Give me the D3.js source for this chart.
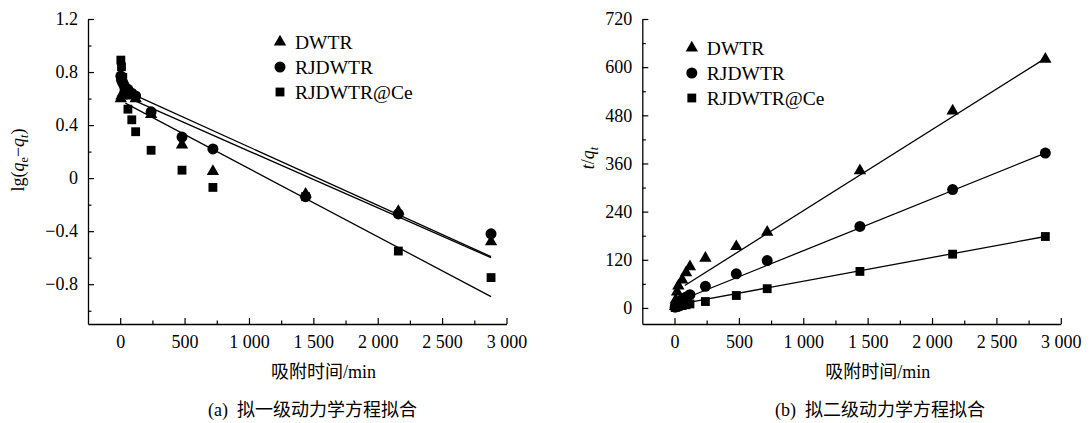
<!DOCTYPE html>
<html>
<head>
<meta charset="utf-8">
<script src="https://cdn.jsdelivr.net/npm/d3@7"></script>
<style>
  body { margin: 0; background: #fff; }
  svg text { font-family: "Liberation Serif", "Times New Roman", "Noto Sans CJK SC", serif; fill: #000; }
</style>
</head>
<body>
<svg id="chart" width="1090" height="423"></svg>
<script>
// adsorption time (min)
var times = [5, 10, 20, 30, 60, 90, 120, 240, 480, 720, 1440, 2160, 2880];
var seriesNames = ["DWTR", "RJDWTR", "RJDWTR@Ce"];

// (a) pseudo-first-order: lg(qe - qt)
var pfoDWTR = [0.60, 0.62, 0.64, 0.65, 0.63, 0.62, 0.60, 0.48, 0.25, 0.05, -0.12, -0.25, -0.48];
var pfoRJDWTR = [0.77, 0.74, 0.72, 0.70, 0.67, 0.64, 0.62, 0.50, 0.31, 0.22, -0.14, -0.27, -0.42];
var pfoCe = [0.89, 0.84, 0.76, 0.68, 0.52, 0.44, 0.35, 0.21, 0.06, -0.07, -0.14, -0.55, -0.75];
// fitted lines [tStart, vStart, tEnd, vEnd]
var pfoFitDWTR = [100, 0.631, 2880, -0.592];
var pfoFitRJDWTR = [120, 0.580, 2880, -0.600];
var pfoFitCe = [40, 0.566, 2880, -0.894];

// (b) pseudo-second-order: t/qt
var psoDWTR = [4, 20, 40, 55, 70, 88, 103, 124, 153, 189, 342, 491, 620];
var psoRJDWTR = [2, 5, 9, 13, 21, 27, 33, 54, 85, 118, 203, 295, 386];
var psoCe = [1, 2, 3, 4, 6, 8, 10, 16, 31, 48, 91, 134, 178];
var psoFitDWTR = [80, 56, 2880, 622];
var psoFitRJDWTR = [100, 26, 2880, 386];
var psoFitCe = [40, 9.6, 2880, 178];

// ticks
var xTicks = [0, 500, 1000, 1500, 2000, 2500, 3000];
var xMinor = [250, 750, 1250, 1750, 2250, 2750];
var xTickLabels = ["0", "500", "1 000", "1 500", "2 000", "2 500", "3 000"];
var yTicksA = [-0.8, -0.4, 0, 0.4, 0.8, 1.2];
var yMinorA = [-1.0, -0.6, -0.2, 0.2, 0.6, 1.0];
var yTickLabelsA = ["\u22120.8", "\u22120.4", "0", "0.4", "0.8", "1.2"];
var yTicksB = [0, 120, 240, 360, 480, 600, 720];
var yMinorB = [60, 180, 300, 420, 540, 660];
var yTickLabelsB = ["0", "120", "240", "360", "480", "600", "720"];

var svg = d3.select("#chart");

var plotW = 418.5, plotH = 305;
var symbolTypes = [d3.symbolTriangle, d3.symbolCircle, d3.symbolSquare];
var symbolSizes = [66, 95, 78];

function drawPanel(opt) {
    var g = svg.append("g").attr("transform", `translate(${opt.left},19)`);
    var x = d3.scaleLinear().domain([-250, 3000]).range([0, plotW]);
    var y = d3.scaleLinear().domain(opt.yDomain).range([plotH, 0]);

    // x axis, ticks pointing inward
    g.append("g")
        .attr("transform", `translate(0,${plotH})`)
        .call(d3.axisBottom(x).tickValues(xTicks).tickSizeInner(-6).tickSizeOuter(0).tickPadding(11)
            .tickFormat((d, i) => xTickLabels[i]));
    g.append("g")
        .attr("transform", `translate(0,${plotH})`)
        .call(d3.axisBottom(x).tickValues(xMinor).tickSizeInner(-3.5).tickSizeOuter(0).tickFormat(""))
        .select(".domain").remove();

    // y axis
    g.append("g")
        .call(d3.axisLeft(y).tickValues(opt.yTicks).tickSizeInner(-6).tickSizeOuter(0).tickPadding(10)
            .tickFormat((d, i) => opt.yLabels[i]));
    g.append("g")
        .call(d3.axisLeft(y).tickValues(opt.yMinor).tickSizeInner(-3.5).tickSizeOuter(0).tickFormat(""))
        .select(".domain").remove();

    g.selectAll(".domain").attr("stroke", "black").attr("stroke-width", 1.3);
    g.selectAll(".tick line").attr("stroke", "black").attr("stroke-width", 1.2);
    g.selectAll(".tick text").attr("font-size", 18);

    // fitted lines
    opt.fits.forEach(function (f) {
        g.append("line")
            .attr("x1", x(f[0])).attr("y1", y(f[1]))
            .attr("x2", x(f[2])).attr("y2", y(f[3]))
            .attr("stroke", "black").attr("stroke-width", 1.3);
    });

    // points, squares first so triangles sit on top
    [2, 1, 0].forEach(function (s) {
        g.selectAll(null)
            .data(opt.series[s].map((v, i) => ({ t: times[i], v: v })))
            .join("path")
            .attr("d", d3.symbol().type(symbolTypes[s]).size(symbolSizes[s]))
            .attr("transform", d => `translate(${x(d.t)},${y(d.v)})`)
            .attr("fill", "black");
    });

    // legend
    var lg = g.append("g").attr("transform", `translate(${opt.legendX},${opt.legendY})`);
    seriesNames.forEach(function (name, i) {
        lg.append("path")
            .attr("d", d3.symbol().type(symbolTypes[i]).size(symbolSizes[i])())
            .attr("transform", `translate(0,${i * 25})`)
            .attr("fill", "black");
        lg.append("text")
            .attr("x", 15).attr("y", i * 25 + 6.5)
            .attr("font-size", 19.5)
            .text(name);
    });

    // x axis title
    g.append("text")
        .attr("x", 183).attr("y", plotH + 54)
        .attr("font-size", 18)
        .text("吸附时间/min");

    // caption
    g.append("text")
        .attr("x", opt.captionX).attr("y", plotH + 92)
        .attr("font-size", 18)
        .text(opt.caption);

    return g;
}

drawPanel({
    left: 88,
    yDomain: [-1.1, 1.2],
    yTicks: yTicksA, yMinor: yMinorA, yLabels: yTickLabelsA,
    series: [pfoDWTR, pfoRJDWTR, pfoCe],
    fits: [pfoFitDWTR, pfoFitRJDWTR, pfoFitCe],
    legendX: 192, legendY: 23,
    captionX: 120, caption: "(a)\u2002拟一级动力学方程拟合"
});

drawPanel({
    left: 642.3,
    yDomain: [-40, 720],
    yTicks: yTicksB, yMinor: yMinorB, yLabels: yTickLabelsB,
    series: [psoDWTR, psoRJDWTR, psoCe],
    fits: [psoFitDWTR, psoFitRJDWTR, psoFitCe],
    legendX: 49.5, legendY: 29,
    captionX: 132.7, caption: "(b)\u2002拟二级动力学方程拟合"
});

// y axis titles
var yLabA = svg.append("text")
    .attr("transform", "translate(24,160) rotate(-90)")
    .attr("text-anchor", "middle")
    .attr("font-size", 18);
yLabA.append("tspan").text("lg(");
yLabA.append("tspan").attr("font-style", "italic").text("q");
yLabA.append("tspan").attr("font-size", 12).attr("dy", 4).text("e");
yLabA.append("tspan").attr("dy", -4).text("\u2212");
yLabA.append("tspan").attr("font-style", "italic").text("q");
yLabA.append("tspan").attr("font-style", "italic").attr("font-size", 12).attr("dy", 4).text("t");
yLabA.append("tspan").attr("dy", -4).text(")");

var yLabB = svg.append("text")
    .attr("transform", "translate(594,158) rotate(-90)")
    .attr("text-anchor", "middle")
    .attr("font-size", 18);
yLabB.append("tspan").attr("font-style", "italic").text("t");
yLabB.append("tspan").text("/");
yLabB.append("tspan").attr("font-style", "italic").text("q");
yLabB.append("tspan").attr("font-style", "italic").attr("font-size", 12).attr("dy", 4).text("t");
</script>
</body>
</html>
